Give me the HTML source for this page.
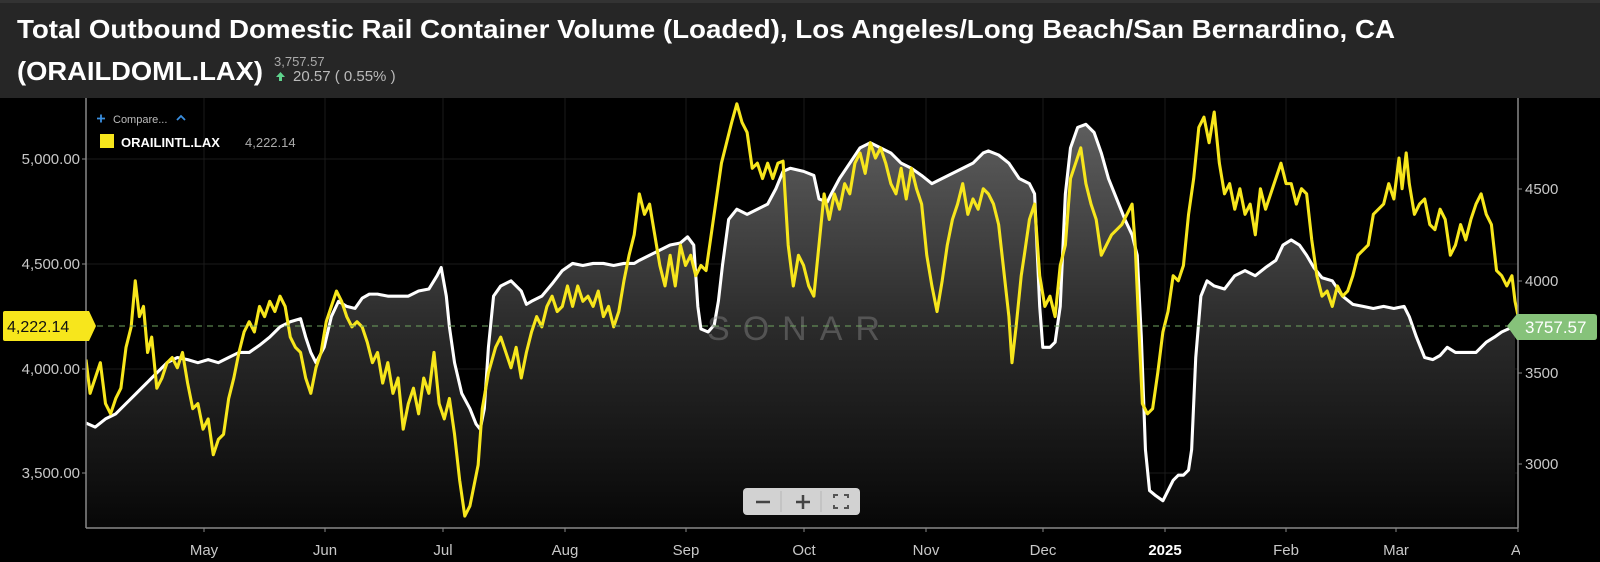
<!DOCTYPE html>
<html><head><meta charset="utf-8"><style>
html,body{margin:0;padding:0;background:#000;}
svg{display:block;font-family:"Liberation Sans",sans-serif;}
</style></head><body>
<svg width="1600" height="562" viewBox="0 0 1600 562" xmlns="http://www.w3.org/2000/svg">
<defs>
<linearGradient id="g" x1="0" y1="120" x2="0" y2="528" gradientUnits="userSpaceOnUse">
<stop offset="0" stop-color="#5e5e5e"/><stop offset="0.5" stop-color="#2a2a2a"/><stop offset="1" stop-color="#050505"/>
</linearGradient>
<clipPath id="pc"><rect x="86" y="98" width="1432" height="430"/></clipPath>
</defs>
<rect x="0" y="0" width="1600" height="562" fill="#000"/>
<rect x="0" y="0" width="1600" height="98" fill="#262626"/>
<rect x="0" y="0" width="1600" height="3" fill="#333"/>
<text x="17" y="38" font-size="26" font-weight="bold" fill="#fff" textLength="1378" lengthAdjust="spacingAndGlyphs">Total Outbound Domestic Rail Container Volume (Loaded), Los Angeles/Long Beach/San Bernardino, CA</text>
<text x="17" y="80" font-size="26" font-weight="bold" fill="#fff" textLength="246" lengthAdjust="spacingAndGlyphs">(ORAILDOML.LAX)</text>
<text x="274" y="66" font-size="13" fill="#aaa">3,757.57</text>
<path d="M280.5 72 L276 77 L279 77 L279 81 L282 81 L282 77 L285 77 Z" fill="#5fd38d"/>
<text x="293" y="81" font-size="15" fill="#bbb">20.57 ( 0.55% )</text>

<!-- grid -->
<g stroke="#1a1a1a" stroke-width="1">
<line x1="204" y1="98" x2="204" y2="528"/><line x1="325" y1="98" x2="325" y2="528"/><line x1="443" y1="98" x2="443" y2="528"/><line x1="565" y1="98" x2="565" y2="528"/><line x1="686" y1="98" x2="686" y2="528"/><line x1="804" y1="98" x2="804" y2="528"/><line x1="926" y1="98" x2="926" y2="528"/><line x1="1043" y1="98" x2="1043" y2="528"/><line x1="1165" y1="98" x2="1165" y2="528"/><line x1="1286" y1="98" x2="1286" y2="528"/><line x1="1396" y1="98" x2="1396" y2="528"/>
<line x1="86" y1="159" x2="1518" y2="159"/><line x1="86" y1="264" x2="1518" y2="264"/><line x1="86" y1="369" x2="1518" y2="369"/><line x1="86" y1="473" x2="1518" y2="473"/>
</g>

<g clip-path="url(#pc)">
<g transform="matrix(1.0266,0,0,1.023,-2.3,-0.5)">
<polygon fill="url(#g)" points="86,518 86,414 95,418 105,410 115,405 125,395 135,385 145,375 155,365 165,355 175,350 185,352 195,355 205,352 215,355 225,350 235,345 245,345 255,338 265,330 275,320 285,315 295,312 300,330 305,345 310,355 318,340 325,310 332,295 340,300 348,302 355,292 362,288 370,288 380,290 390,290 400,290 410,285 420,283 428,270 432,262 437,290 440,320 445,355 452,385 460,400 466,415 470,420 474,400 478,340 483,290 490,280 500,275 510,285 515,298 520,295 530,290 540,278 550,265 560,258 570,260 580,258 590,258 600,260 610,258 620,258 625,255 635,250 645,245 655,240 665,238 672,232 678,240 682,300 685,322 692,325 698,318 702,295 706,260 712,215 720,205 730,210 740,205 750,200 758,185 765,168 772,165 785,168 795,172 800,195 808,198 812,190 820,175 830,160 840,145 850,140 860,145 870,150 880,160 890,165 900,172 910,180 920,175 930,170 940,165 950,160 960,150 965,148 975,152 985,160 995,175 1005,180 1010,190 1015,300 1018,340 1025,340 1030,335 1035,300 1040,190 1045,145 1052,125 1060,122 1068,130 1075,150 1082,175 1090,195 1098,215 1105,230 1110,250 1114,330 1118,440 1122,480 1128,485 1135,490 1140,480 1145,470 1150,465 1155,465 1160,460 1163,440 1167,350 1172,290 1178,275 1185,280 1195,283 1205,270 1215,265 1225,270 1235,262 1245,255 1252,240 1260,235 1268,240 1275,250 1282,262 1290,272 1300,275 1310,290 1320,298 1330,300 1340,302 1350,300 1360,302 1370,300 1375,310 1382,330 1390,350 1398,352 1405,348 1412,340 1420,345 1430,345 1440,345 1450,335 1458,330 1465,325 1478,319 1478,518"/>
<polyline fill="none" stroke="#fff" stroke-width="3" stroke-linejoin="round" points="86,414 95,418 105,410 115,405 125,395 135,385 145,375 155,365 165,355 175,350 185,352 195,355 205,352 215,355 225,350 235,345 245,345 255,338 265,330 275,320 285,315 295,312 300,330 305,345 310,355 318,340 325,310 332,295 340,300 348,302 355,292 362,288 370,288 380,290 390,290 400,290 410,285 420,283 428,270 432,262 437,290 440,320 445,355 452,385 460,400 466,415 470,420 474,400 478,340 483,290 490,280 500,275 510,285 515,298 520,295 530,290 540,278 550,265 560,258 570,260 580,258 590,258 600,260 610,258 620,258 625,255 635,250 645,245 655,240 665,238 672,232 678,240 682,300 685,322 692,325 698,318 702,295 706,260 712,215 720,205 730,210 740,205 750,200 758,185 765,168 772,165 785,168 795,172 800,195 808,198 812,190 820,175 830,160 840,145 850,140 860,145 870,150 880,160 890,165 900,172 910,180 920,175 930,170 940,165 950,160 960,150 965,148 975,152 985,160 995,175 1005,180 1010,190 1015,300 1018,340 1025,340 1030,335 1035,300 1040,190 1045,145 1052,125 1060,122 1068,130 1075,150 1082,175 1090,195 1098,215 1105,230 1110,250 1114,330 1118,440 1122,480 1128,485 1135,490 1140,480 1145,470 1150,465 1155,465 1160,460 1163,440 1167,350 1172,290 1178,275 1185,280 1195,283 1205,270 1215,265 1225,270 1235,262 1245,255 1252,240 1260,235 1268,240 1275,250 1282,262 1290,272 1300,275 1310,290 1320,298 1330,300 1340,302 1350,300 1360,302 1370,300 1375,310 1382,330 1390,350 1398,352 1405,348 1412,340 1420,345 1430,345 1440,345 1450,335 1458,330 1465,325 1478,319"/>
<polyline fill="none" stroke="#f7e61c" stroke-width="3" stroke-linejoin="round" points="86,352 90,385 95,370 100,355 105,395 110,405 115,390 120,380 125,340 130,320 134,275 138,310 142,300 146,345 150,330 155,380 160,370 165,355 170,350 175,360 180,345 185,375 190,400 195,395 200,420 205,410 210,445 215,430 220,425 225,390 230,370 235,345 240,325 245,315 250,325 255,300 260,310 265,295 270,305 275,290 280,300 285,330 290,340 295,345 300,370 305,385 310,360 315,345 320,315 325,300 330,285 335,295 340,310 345,320 350,315 355,320 360,335 365,355 370,345 375,375 380,355 385,385 390,370 395,420 400,395 405,380 410,405 415,370 420,385 425,345 430,395 435,410 440,390 445,425 450,470 455,505 460,495 465,470 468,455 472,400 478,365 485,340 490,330 495,345 500,360 505,340 510,370 515,345 520,325 525,310 530,320 535,300 540,290 545,305 550,300 555,280 560,300 565,280 570,295 575,290 580,300 585,285 590,310 595,300 600,320 605,305 610,275 615,250 620,230 625,190 630,210 635,200 640,230 645,260 650,280 655,250 660,280 665,240 670,260 675,250 680,270 685,260 690,265 695,230 700,195 705,160 710,140 715,120 720,102 725,120 730,130 735,165 740,160 745,175 750,160 755,175 760,160 765,158 770,240 775,280 780,250 785,260 790,280 795,290 800,240 805,190 810,215 815,190 820,205 825,180 830,190 835,160 840,150 845,170 850,140 855,155 860,145 865,160 870,180 875,190 880,165 885,195 890,165 895,185 900,200 905,250 910,280 915,305 920,275 925,240 930,215 935,200 940,180 945,210 950,195 955,205 960,185 965,190 970,200 975,220 980,265 985,310 988,355 992,320 997,270 1000,250 1005,215 1010,200 1015,270 1020,300 1025,290 1030,310 1035,260 1040,240 1045,175 1050,160 1055,145 1060,180 1065,200 1070,215 1075,250 1080,240 1085,230 1090,225 1095,220 1100,210 1105,200 1108,240 1112,330 1115,395 1120,405 1125,400 1130,365 1135,325 1140,305 1145,270 1150,275 1155,260 1160,210 1165,175 1170,125 1175,115 1180,140 1185,110 1190,160 1195,190 1200,180 1205,205 1210,185 1215,210 1220,200 1225,230 1230,185 1235,205 1240,190 1245,175 1250,160 1255,180 1260,180 1265,200 1270,185 1275,190 1280,235 1285,270 1290,290 1295,285 1300,300 1305,280 1310,290 1315,285 1320,270 1325,250 1330,245 1335,240 1340,210 1345,205 1350,200 1355,180 1360,195 1365,155 1368,185 1372,150 1375,180 1380,210 1385,200 1390,195 1395,220 1400,225 1405,205 1410,215 1415,250 1420,240 1425,220 1430,235 1435,215 1440,200 1445,190 1450,210 1455,220 1460,265 1465,270 1470,280 1475,270 1478,295 1483,319"/>
</g>
</g>

<text x="800" y="340" font-size="34" fill="#888" fill-opacity="0.45" text-anchor="middle" letter-spacing="13">SONAR</text>
<line x1="86" y1="326" x2="1518" y2="326" stroke="#6fa35f" stroke-width="1" stroke-dasharray="6,5"/>

<!-- axes -->
<line x1="86" y1="98" x2="86" y2="528" stroke="#888" stroke-width="1.5"/>
<line x1="1518" y1="98" x2="1518" y2="528" stroke="#888" stroke-width="1.5"/>
<line x1="86" y1="528" x2="1518" y2="528" stroke="#888" stroke-width="1.5"/>
<g stroke="#888" stroke-width="1">
<line x1="82" y1="159" x2="86" y2="159"/><line x1="82" y1="264" x2="86" y2="264"/><line x1="82" y1="369" x2="86" y2="369"/><line x1="82" y1="473" x2="86" y2="473"/>
<line x1="1518" y1="189" x2="1522" y2="189"/><line x1="1518" y1="281" x2="1522" y2="281"/><line x1="1518" y1="373" x2="1522" y2="373"/><line x1="1518" y1="464" x2="1522" y2="464"/>
<line x1="204" y1="528" x2="204" y2="532"/><line x1="325" y1="528" x2="325" y2="532"/><line x1="443" y1="528" x2="443" y2="532"/><line x1="565" y1="528" x2="565" y2="532"/><line x1="686" y1="528" x2="686" y2="532"/><line x1="804" y1="528" x2="804" y2="532"/><line x1="926" y1="528" x2="926" y2="532"/><line x1="1043" y1="528" x2="1043" y2="532"/><line x1="1165" y1="528" x2="1165" y2="532"/><line x1="1286" y1="528" x2="1286" y2="532"/><line x1="1396" y1="528" x2="1396" y2="532"/><line x1="1518" y1="528" x2="1518" y2="532"/>
</g>
<g font-size="15" fill="#c8c8c8" text-anchor="end">
<text x="80" y="164">5,000.00</text><text x="80" y="269">4,500.00</text><text x="80" y="374">4,000.00</text><text x="80" y="478">3,500.00</text>
</g>
<g font-size="15" fill="#c8c8c8">
<text x="1525" y="194">4500</text><text x="1525" y="286">4000</text><text x="1525" y="378">3500</text><text x="1525" y="469">3000</text>
</g>
<g font-size="15" fill="#c8c8c8" text-anchor="middle">
<text x="204" y="555">May</text><text x="325" y="555">Jun</text><text x="443" y="555">Jul</text><text x="565" y="555">Aug</text><text x="686" y="555">Sep</text><text x="804" y="555">Oct</text><text x="926" y="555">Nov</text><text x="1043" y="555">Dec</text><text x="1165" y="555" font-weight="bold" fill="#fff">2025</text><text x="1286" y="555">Feb</text><text x="1396" y="555">Mar</text>
</g>
<text x="1511" y="555" font-size="15" fill="#c8c8c8">A</text>
<rect x="1520" y="530" width="80" height="32" fill="#000"/>

<!-- value labels -->
<path d="M3 313 Q3 311 5 311 L89 311 L96 326 L89 341 L5 341 Q3 341 3 339 Z" fill="#f7e61c"/>
<text x="7" y="332" font-size="16" fill="#111">4,222.14</text>
<path d="M1507 326 L1517 314 L1594 314 Q1597 314 1597 317 L1597 337 Q1597 340 1594 340 L1517 340 Z" fill="#86c27a"/>
<text x="1525" y="333" font-size="17" fill="#fff">3757.57</text>

<!-- legend -->
<path d="M97 118.5 H105 M101 114.5 V122.5" stroke="#3a8fe0" stroke-width="1.8"/>
<text x="113" y="123" font-size="11" fill="#bbb">Compare...</text>
<path d="M177 120 L181 116 L185 120" stroke="#3a8fe0" stroke-width="1.8" fill="none"/>
<rect x="100" y="134" width="14" height="14" fill="#f7e61c"/>
<text x="121" y="147" font-size="13" font-weight="bold" fill="#fff">ORAILINTL.LAX</text>
<text x="245" y="147" font-size="13" fill="#aaa">4,222.14</text>

<!-- zoom control -->
<rect x="743" y="488" width="117" height="27" rx="4" fill="#d2d2d2"/>
<line x1="781" y1="491" x2="781" y2="512" stroke="#b5b5b5"/><line x1="821" y1="491" x2="821" y2="512" stroke="#b5b5b5"/>
<path d="M756 502 H770" stroke="#444" stroke-width="2.5"/>
<path d="M796 502 H810 M803 495 V509" stroke="#444" stroke-width="2.5"/>
<path d="M834 498 V495 H838 M844 495 H848 V498 M848 505 V508 H844 M838 508 H834 V505" stroke="#555" stroke-width="2" fill="none"/>
</svg>
</body></html>
